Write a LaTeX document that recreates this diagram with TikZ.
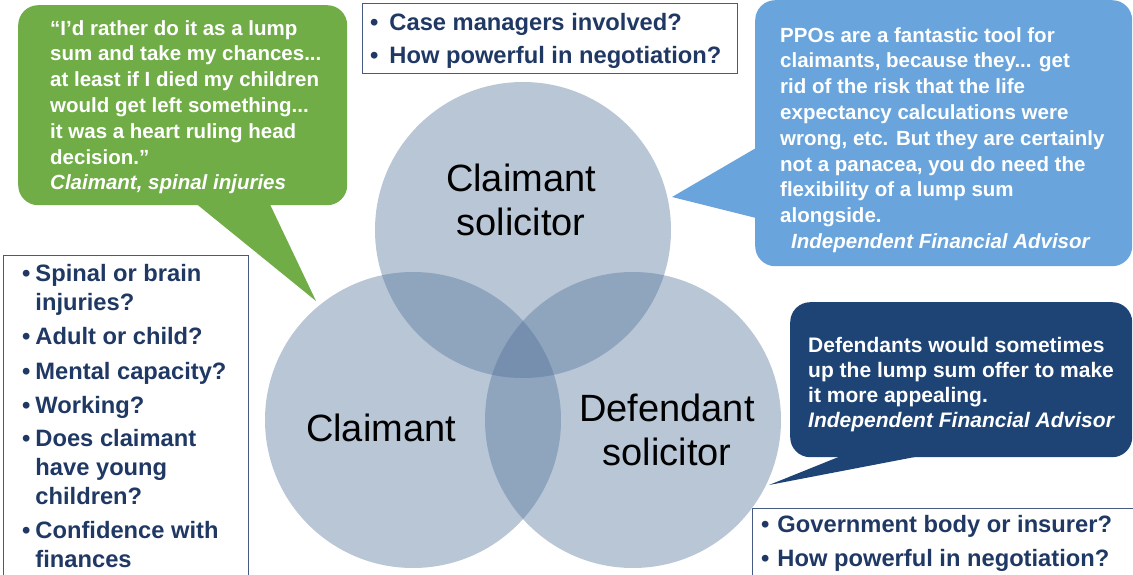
\documentclass[tikz,border=0pt]{standalone}
\usepackage{fontspec}
\setmainfont{Liberation Sans}
\definecolor{vennc}{RGB}{80,112,152}
\definecolor{gq}{RGB}{112,173,71}
\definecolor{lb}{RGB}{105,165,220}
\definecolor{db}{RGB}{30,68,118}
\definecolor{navy}{RGB}{31,56,100}
\definecolor{boxc}{RGB}{70,90,130}
\begin{document}
\begin{tikzpicture}[x=1pt,y=-1pt,
  venn/.style={circle, fill=vennc, fill opacity=0.4, minimum size=296pt, inner sep=0pt},
  lbl/.style={font=\fontsize{38}{44}\selectfont, text=black, align=center, inner sep=0pt},
  bubble/.style={rounded corners=20pt, inner sep=0pt, anchor=north west},
  qtext/.style={text=white, font=\bfseries\fontsize{20.5}{25.8}\selectfont, align=left, inner sep=0pt, anchor=north west},
  qbox/.style={draw=boxc, line width=1.2pt, fill=white, inner sep=0pt, anchor=north west},
  btext/.style={text=navy, font=\bfseries\fontsize{23.7}{29}\selectfont, inner sep=0pt, anchor=north west}
]
\useasboundingbox (0,0) rectangle (1133,575);
% Venn circles
\node[venn] (cs) at (523,230) {};
\node[venn] (cl) at (413,420) {};
\node[venn] (ds) at (633,420) {};
\node[lbl] (lcs) at (521,200) {Claimant\\solicitor};
\node[lbl] (lcl) at (381,428) {Claimant};
\node[lbl] (lds) at (667,430) {Defendant\\solicitor};
% green bubble
\node[bubble, fill=gq, minimum width=329pt, minimum height=200pt] (gb) at (18,5) {};
\coordinate (gtip) at (316,301);
\fill[gq] ([xshift=179pt,yshift=1pt]gb.south west) -- (gtip) -- ([xshift=252pt,yshift=1pt]gb.south west) -- cycle;
\node[qtext] (gt) at (50,20) {“I’d rather do it as a lump\\
sum and take my chances...\\
at least if I died my children\\
would get left something...\\
it was a heart ruling head\\
decision.”\\
\textit{Claimant, spinal injuries}};
% light blue bubble
\node[bubble, fill=lb, minimum width=377pt, minimum height=266pt] (bb) at (755,0) {};
\coordinate (btip) at (672,197);
\fill[lb] ([yshift=-148pt,xshift=1pt]bb.north west) -- (btip) -- ([yshift=-218pt,xshift=1pt]bb.north west) -- cycle;
\node[qtext] (bt) at (780,27) {PPOs are a fantastic tool for\\
claimants, because they... get\\
rid of the risk that the life\\
expectancy calculations were\\
wrong, etc. But they are certainly\\
not a panacea, you do need the\\
flexibility of a lump sum\\
alongside.\\
\hspace*{11pt}\textit{Independent Financial Advisor}};
% dark blue bubble
\node[bubble, fill=db, minimum width=342pt, minimum height=155pt] (db) at (790,302) {};
\coordinate (dtip) at (769,485);
\fill[db] ([xshift=50pt,yshift=1pt]db.south west) -- (dtip) -- ([xshift=128pt,yshift=1pt]db.south west) -- cycle;
\node[qtext, font=\bfseries\fontsize{21}{25}\selectfont] (dt) at (808,337) {Defendants would sometimes\\
up the lump sum offer to make\\
it more appealing.\\
\textit{Independent Financial Advisor}};
% boxes
\node[qbox, minimum width=375pt, minimum height=70pt] (cb) at (362,3) {};
\node[btext] (ct) at (370,9.7) {\begin{tabular}{@{}l@{\hspace{11pt}}l@{}}
\textbullet & Case managers involved?\\[4pt]
\textbullet & How powerful in negotiation?
\end{tabular}};
\node[qbox, minimum width=245pt, minimum height=325pt] (lbx) at (3,255) {};
\node[btext] (lt) at (22,260.7) {\begin{tabular}{@{}l@{\hspace{5pt}}l@{}}
\textbullet & Spinal or brain\\
 & injuries?\\[5pt]
\textbullet & Adult or child?\\[6pt]
\textbullet & Mental capacity?\\[5pt]
\textbullet & Working?\\[4pt]
\textbullet & Does claimant\\
 & have young\\
 & children?\\[5pt]
\textbullet & Confidence with\\
 & finances
\end{tabular}};
\node[qbox, minimum width=385pt, minimum height=75pt] (rbx) at (752,508) {};
\node[btext] (rt) at (761,511.7) {\begin{tabular}{@{}l@{\hspace{8pt}}l@{}}
\textbullet & Government body or insurer?\\[5pt]
\textbullet & How powerful in negotiation?
\end{tabular}};
\end{tikzpicture}
\end{document}
